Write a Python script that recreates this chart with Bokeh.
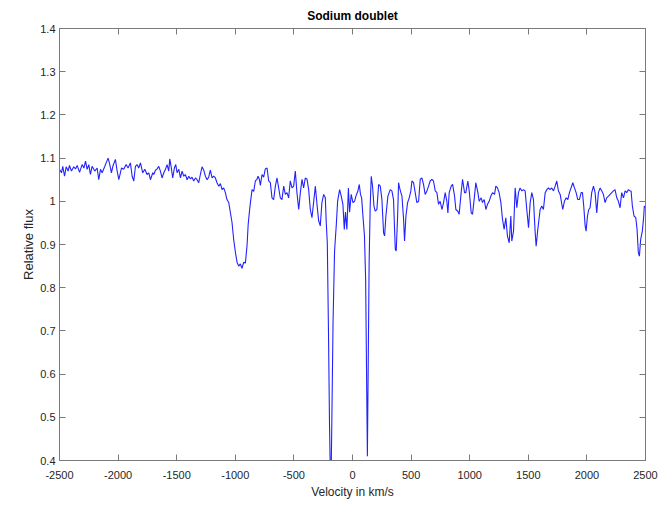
from bokeh.plotting import figure
from bokeh.models import Range1d, FixedTicker, LinearAxis, ColumnDataSource
from bokeh.embed import file_html
from bokeh.resources import INLINE

# ---- data ----
velocity = [
    -2500, -2483, -2472, -2457, -2443, -2426, -2415, -2398, -2378, -2364,
    -2349, -2329, -2307, -2292, -2278, -2264, -2250, -2236, -2222, -2199,
    -2179, -2165, -2150, -2136, -2113, -2102, -2085, -2071, -2057, -2045,
    -2023, -2008, -1994, -1971, -1952, -1932, -1915, -1895, -1880, -1866,
    -1852, -1838, -1824, -1809, -1790, -1772, -1753, -1738, -1724, -1704,
    -1696, -1681, -1667, -1653, -1639, -1625, -1610, -1596, -1582, -1568,
    -1559, -1548, -1534, -1520, -1508, -1497, -1482, -1468, -1454, -1440,
    -1426, -1411, -1397, -1383, -1369, -1355, -1340, -1326, -1312, -1298,
    -1284, -1269, -1255, -1241, -1227, -1213, -1198, -1184, -1170, -1156,
    -1141, -1127, -1113, -1099, -1085, -1071, -1056, -1042, -1028, -1014,
    -999, -985, -971, -957, -943, -928, -914, -900, -890, -880,
    -871, -857, -843, -829, -815, -806, -795, -786, -772, -758,
    -744, -729, -715, -701, -687, -673, -658, -644, -630, -616,
    -602, -587, -573, -559, -545, -531, -516, -502, -488, -474,
    -459, -445, -431, -417, -403, -388, -374, -360, -346, -332,
    -317, -303, -289, -275, -261, -246, -232, -224, -215, -205,
    -196, -189, -182, -175, -166, -153, -138, -127, -110, -96,
    -82, -70, -60, -48, -35, -25, -11, 4, 18, 29,
    46, 58, 68, 78, 88, 102, 112, 120, 127, 134,
    142, 151, 160, 171, 183, 194, 208, 223, 237, 251,
    265, 274, 285, 302, 322, 336, 350, 365, 373, 385,
    393, 402, 413, 422, 436, 444, 456, 470, 484, 498,
    507, 521, 535, 549, 564, 578, 592, 606, 620, 635,
    649, 663, 677, 691, 706, 720, 734, 748, 763, 777,
    791, 805, 814, 825, 842, 854, 871, 882, 899, 910,
    927, 939, 956, 967, 984, 996, 1013, 1024, 1041, 1052,
    1070, 1081, 1098, 1109, 1124, 1138, 1152, 1166, 1180, 1195,
    1212, 1223, 1237, 1251, 1266, 1280, 1294, 1308, 1322, 1337,
    1351, 1359, 1374, 1388, 1402, 1416, 1430, 1445, 1459, 1473,
    1487, 1502, 1516, 1530, 1544, 1558, 1567, 1581, 1601, 1615,
    1629, 1644, 1658, 1672, 1686, 1700, 1715, 1729, 1743, 1757,
    1772, 1786, 1794, 1808, 1823, 1837, 1851, 1865, 1880, 1894,
    1908, 1922, 1936, 1951, 1962, 1973, 1985, 1993, 2005, 2016,
    2027, 2041, 2056, 2070, 2084, 2098, 2113, 2127, 2141, 2155,
    2169, 2184, 2198, 2212, 2226, 2240, 2255, 2269, 2283, 2297,
    2312, 2326, 2340, 2354, 2368, 2377, 2388, 2402, 2417, 2428,
    2439, 2448, 2459, 2473, 2485, 2490, 2500,
]

relative_flux = [
    1.074, 1.066, 1.081, 1.058, 1.080, 1.070, 1.083, 1.070, 1.080, 1.075,
    1.083, 1.067, 1.085, 1.077, 1.093, 1.074, 1.085, 1.062, 1.081, 1.070,
    1.077, 1.050, 1.074, 1.066, 1.081, 1.089, 1.100, 1.085, 1.066, 1.081,
    1.097, 1.070, 1.050, 1.077, 1.074, 1.085, 1.077, 1.089, 1.058, 1.047,
    1.081, 1.085, 1.077, 1.089, 1.066, 1.074, 1.062, 1.066, 1.050, 1.066,
    1.062, 1.072, 1.075, 1.081, 1.070, 1.054, 1.066, 1.074, 1.085, 1.070,
    1.098, 1.081, 1.054, 1.077, 1.085, 1.066, 1.074, 1.054, 1.070, 1.058,
    1.062, 1.050, 1.058, 1.052, 1.056, 1.047, 1.054, 1.050, 1.043, 1.062,
    1.080, 1.072, 1.058, 1.050, 1.056, 1.072, 1.054, 1.058, 1.054, 1.043,
    1.035, 1.041, 1.027, 1.031, 1.020, 1.004, 0.997, 0.974, 0.951, 0.912,
    0.882, 0.859, 0.850, 0.855, 0.845, 0.859, 0.857, 0.897, 0.947, 0.975,
    0.997, 1.027, 1.023, 1.047, 1.051, 1.058, 1.051, 1.037, 1.062, 1.056,
    1.075, 1.077, 1.047, 1.043, 1.008, 1.004, 1.035, 1.054, 1.031, 1.008,
    1.004, 1.035, 1.016, 1.020, 1.008, 1.047, 1.031, 1.035, 1.070, 1.020,
    0.981, 1.020, 1.051, 1.031, 1.054, 1.051, 1.027, 0.981, 0.962, 0.997,
    1.035, 0.993, 0.955, 0.943, 0.997, 1.016, 1.008, 0.951, 0.904, 0.700,
    0.480, 0.370, 0.370, 0.520, 0.720, 0.885, 0.947, 1.000, 1.027, 1.012,
    0.993, 0.935, 0.975, 0.935, 1.031, 0.975, 1.016, 0.997, 1.000, 1.012,
    1.024, 1.039, 1.016, 1.008, 0.970, 0.920, 0.820, 0.600, 0.410, 0.620,
    0.860, 0.990, 1.058, 1.035, 0.989, 0.977, 0.981, 1.039, 1.035, 1.004,
    0.927, 0.920, 0.966, 1.012, 1.027, 1.024, 1.004, 0.889, 0.885, 0.966,
    1.043, 1.031, 1.020, 1.012, 0.958, 0.908, 0.966, 0.997, 1.008, 1.024,
    1.047, 1.043, 1.020, 0.997, 1.000, 1.051, 1.054, 1.039, 1.016, 1.024,
    1.035, 1.047, 1.051, 1.047, 1.024, 1.020, 0.993, 1.000, 0.981, 0.997,
    1.020, 1.000, 0.973, 1.020, 1.035, 1.039, 1.012, 0.981, 0.977, 0.970,
    1.020, 1.051, 1.020, 1.020, 1.047, 1.024, 0.973, 0.970, 1.012, 1.043,
    1.020, 1.000, 1.008, 0.997, 1.004, 0.981, 0.993, 1.000, 1.012, 1.020,
    1.016, 1.035, 1.031, 1.020, 0.997, 0.958, 0.935, 0.962, 0.920, 0.904,
    0.966, 0.908, 0.931, 1.031, 0.985, 1.020, 1.031, 1.024, 1.027, 1.024,
    0.981, 0.939, 0.997, 1.020, 1.004, 0.931, 0.896, 0.935, 0.981, 0.989,
    0.981, 1.020, 1.027, 1.031, 1.027, 1.031, 1.024, 1.035, 1.047, 1.024,
    1.016, 0.993, 0.981, 1.000, 1.008, 1.004, 1.020, 1.031, 1.043, 1.031,
    1.020, 1.004, 1.004, 1.020, 1.020, 0.989, 0.943, 0.931, 0.966, 0.981,
    0.985, 1.020, 1.035, 1.020, 0.973, 1.020, 1.031, 1.024, 1.016, 0.997,
    1.008, 1.012, 1.016, 1.020, 1.024, 1.027, 1.008, 1.000, 0.985, 1.020,
    1.008, 1.024, 1.020, 1.027, 1.024, 1.024, 0.989, 0.966, 0.962, 0.935,
    0.881, 0.873, 0.912, 0.931, 0.966, 0.989, 0.985,
]

x_ticks = [-2500, -2000, -1500, -1000, -500, 0, 500, 1000, 1500, 2000, 2500]
x_tick_labels = ["-2500", "-2000", "-1500", "-1000", "-500", "0", "500",
                 "1000", "1500", "2000", "2500"]
y_ticks = [0.4, 0.5, 0.6, 0.7, 0.8, 0.9, 1, 1.1, 1.2, 1.3, 1.4]
y_tick_labels = ["0.4", "0.5", "0.6", "0.7", "0.8", "0.9", "1", "1.1",
                 "1.2", "1.3", "1.4"]

title_text = "Sodium doublet"
x_label = "Velocity in km/s"
y_label = "Relative flux"

# ---- figure ----
FONT = "Liberation Sans"
AXIS_COLOR = "#7a7a7a"
TEXT_COLOR = "#262626"

p = figure(width=668, height=510, output_backend="svg", toolbar_location=None,
           x_range=Range1d(-2500, 2500), y_range=Range1d(0.4, 1.4),
           min_border_left=59, min_border_right=23, min_border_top=27,
           min_border_bottom=50)
p.title.text = title_text
p.title.align = "center"
p.title.text_font = FONT
p.title.text_font_size = "12px"
p.title.text_font_style = "bold"
p.title.text_color = "#000000"
p.title.standoff = 12
p.title.offset = 0

p.xgrid.visible = False
p.ygrid.visible = False
p.background_fill_color = "white"
p.border_fill_color = "white"
p.outline_line_color = AXIS_COLOR

src = ColumnDataSource(data=dict(v=velocity, f=relative_flux))
p.line("v", "f", source=src, line_color="#2222ff", line_width=1.1)

xover = {t: l for t, l in zip(x_ticks, x_tick_labels)}
yover = {t: l for t, l in zip(y_ticks, y_tick_labels)}


def style(ax, show_labels):
    ax.axis_line_color = AXIS_COLOR
    ax.major_tick_line_color = AXIS_COLOR
    ax.major_tick_in = 6
    ax.major_tick_out = 0
    ax.minor_tick_line_color = None
    ax.major_label_text_font = FONT
    ax.major_label_text_color = TEXT_COLOR
    ax.axis_label_text_font = FONT
    ax.axis_label_text_color = TEXT_COLOR
    ax.axis_label_text_font_style = "normal"
    if not show_labels:
        ax.major_label_text_font_size = "1px"
        ax.major_label_text_color = None
        ax.major_label_standoff = 0


xa = p.xaxis[0]
xa.ticker = FixedTicker(ticks=x_ticks)
xa.major_label_overrides = xover
style(xa, True)
xa.major_label_text_font_size = "11px"
xa.major_label_standoff = 10
xa.axis_label = x_label
xa.axis_label_text_font_size = "12px"
xa.axis_label_standoff = 3

ya = p.yaxis[0]
ya.ticker = FixedTicker(ticks=y_ticks)
ya.major_label_overrides = yover
style(ya, True)
ya.major_label_text_font_size = "11px"
ya.major_label_standoff = 4
ya.axis_label = y_label
ya.axis_label_text_font_size = "13px"
ya.axis_label_standoff = 1

top = LinearAxis(ticker=FixedTicker(ticks=x_ticks))
style(top, False)
p.add_layout(top, "above")
right = LinearAxis(ticker=FixedTicker(ticks=y_ticks))
style(right, False)
p.add_layout(right, "right")

open("out.html", "w").write(file_html(p, INLINE))
